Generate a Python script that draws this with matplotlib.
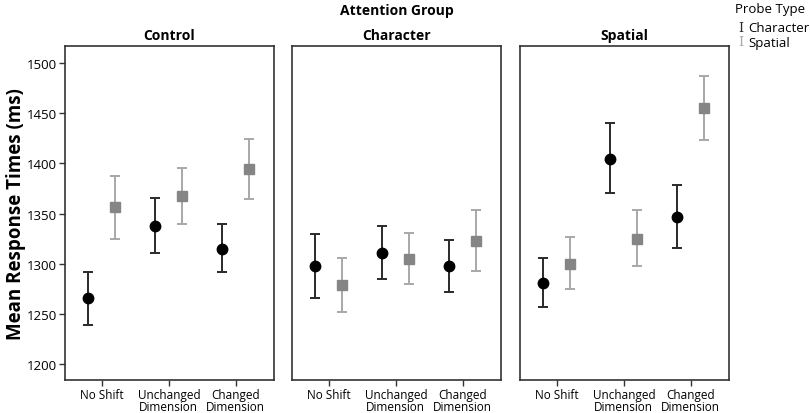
import matplotlib
matplotlib.use("Agg")
import matplotlib.pyplot as plt
import numpy as np

plt.rcParams['font.family'] = ['Open Sans', 'DejaVu Sans']

groups = ["Control", "Character", "Spatial"]
conditions = ["No Shift", "Unchanged\nDimension", "Changed\nDimension"]
probe_types = ["Character", "Spatial"]

# means and error bar bounds per group (one value per condition)
char_mean = {"Control": [1266, 1338, 1315], "Character": [1298, 1311, 1298], "Spatial": [1281, 1404, 1347]}
char_low = {"Control": [1239, 1311, 1292], "Character": [1266, 1285, 1272], "Spatial": [1257, 1370, 1316]}
char_high = {"Control": [1292, 1365, 1340], "Character": [1330, 1338, 1324], "Spatial": [1306, 1440, 1378]}
spat_mean = {"Control": [1356, 1367, 1394], "Character": [1279, 1305, 1323], "Spatial": [1300, 1325, 1455]}
spat_low = {"Control": [1325, 1340, 1364], "Character": [1252, 1280, 1293], "Spatial": [1275, 1298, 1423]}
spat_high = {"Control": [1387, 1395, 1424], "Character": [1306, 1331, 1353], "Spatial": [1327, 1353, 1487]}

yticks = [1200, 1250, 1300, 1350, 1400, 1450, 1500]

fig = plt.figure(figsize=(8.1, 4.14), dpi=100)
lefts = [65, 292, 520]
W, H = 810, 414
for i, g in enumerate(groups):
    ax = fig.add_axes([lefts[i] / W, 1 - 381 / H, 209 / W, (381 - 47) / H])
    x = np.arange(len(conditions))
    cm = np.array(char_mean[g]); cl = np.array(char_low[g]); ch = np.array(char_high[g])
    sm = np.array(spat_mean[g]); sl = np.array(spat_low[g]); sh = np.array(spat_high[g])
    ax.errorbar(x - 0.2, cm, yerr=[cm - cl, ch - cm], fmt='none', ecolor='#2a2a2a',
                elinewidth=1.4, capsize=3.5, capthick=1.4, zorder=2)
    ax.plot(x - 0.2, cm, 'o', color='black', markersize=7.5, zorder=3)
    ax.errorbar(x + 0.2, sm, yerr=[sm - sl, sh - sm], fmt='none', ecolor='#a8a8a8',
                elinewidth=1.4, capsize=3.5, capthick=1.4, zorder=2)
    ax.plot(x + 0.2, sm, 's', color='#858585', markersize=7, zorder=3)
    ax.set_xlim(-0.55, 2.57)
    ax.set_ylim(1184, 1517)
    ax.set_xticks(x)
    ax.set_xticklabels(conditions, fontsize=8.5, linespacing=0.9)
    ax.set_yticks(yticks)
    ax.tick_params(axis='both', direction='out', length=4, width=1, color='#333333', pad=2)
    if i == 0:
        ax.set_yticklabels([str(t) for t in yticks], fontsize=9.5)
    else:
        ax.tick_params(axis='y', left=False, labelleft=False)
    for s in ax.spines.values():
        s.set_linewidth(1.2)
        s.set_color('#333333')
    ax.set_title(g, fontsize=10, fontweight='bold', pad=5)

fig.text(397 / W, 1 - 11 / H, "Attention Group", ha='center', va='center', fontsize=10, fontweight='bold')
fig.text(16 / W, 1 - 214 / H, "Mean Response Times (ms)", ha='center', va='center', rotation=90,
         fontsize=13.5, fontweight='bold')

# legend
fig.text(735 / W, 1 - 10 / H, "Probe Type", ha='left', va='center', fontsize=9.5)
ys = [29, 43]
for lab, col, yy in zip(probe_types, ['#2a2a2a', '#a8a8a8'], ys):
    fig.text(741 / W, 1 - yy / H, "I", ha='center', va='center', fontsize=9, color=col,
             family=['DejaVu Serif'])
    fig.text(748 / W, 1 - yy / H, lab, ha='left', va='center', fontsize=9.5, color='black')

fig.savefig("out.png", dpi=100)
